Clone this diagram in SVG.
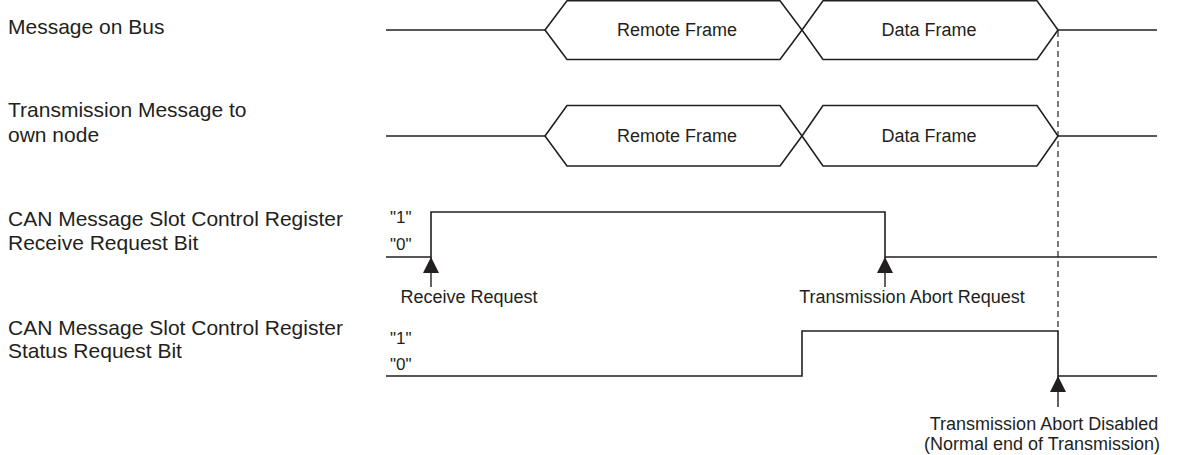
<svg xmlns="http://www.w3.org/2000/svg" width="1179" height="455" viewBox="0 0 1179 455">
  <style>
    .lbl { font-family: "Liberation Sans", Arial, sans-serif; font-size: 21px; fill: #231f20; }
    .txt { font-family: "Liberation Sans", Arial, sans-serif; font-size: 18px; fill: #231f20; }
    .lvl { font-family: "Liberation Sans", Arial, sans-serif; font-size: 17px; fill: #231f20; }
    .sig { fill: none; stroke: #231f20; stroke-width: 1.6; stroke-linejoin: miter; }
    .frame { fill: #ffffff; stroke: #231f20; stroke-width: 1.6; }
    .arrow { fill: none; stroke: #231f20; stroke-width: 1.4; marker-end: url(#head); }
    .dash { fill: none; stroke: #231f20; stroke-width: 1.2; stroke-dasharray: 6 4; }
  </style>
  <defs>
    <marker id="head" markerUnits="userSpaceOnUse" markerWidth="16" markerHeight="17" refX="16" refY="8" orient="auto">
      <path d="M0,0 L16,8 L0,16 Z" fill="#231f20"/>
    </marker>
  </defs>

  <rect width="1179" height="455" fill="#ffffff"/>

  <!-- Row 1: message on bus -->
  <g id="bus-message">
    <text class="lbl" x="8" y="34">Message on Bus</text>
    <path class="sig" d="M386,30 H545"/>
    <path class="sig" d="M1058,30 H1157"/>
    <polygon class="frame" points="545,30 567,0.8 780,0.8 802,30 780,59.5 567,59.5"/>
    <polygon class="frame" points="802,30 823,0.8 1037,0.8 1058,30 1037,59.5 823,59.5"/>
    <text class="txt" x="677" y="36" text-anchor="middle">Remote Frame</text>
    <text class="txt" x="929" y="36" text-anchor="middle">Data Frame</text>
  </g>

  <!-- Row 2: transmission message to own node -->
  <g id="own-message">
    <text class="lbl" x="8" y="117">Transmission Message to</text>
    <text class="lbl" x="8" y="142">own node</text>
    <path class="sig" d="M386,136 H545"/>
    <path class="sig" d="M1058,136 H1157"/>
    <polygon class="frame" points="545,136 567,105.5 780,105.5 802,136 780,166 567,166"/>
    <polygon class="frame" points="802,136 823,105.5 1037,105.5 1058,136 1037,166 823,166"/>
    <text class="txt" x="677" y="142" text-anchor="middle">Remote Frame</text>
    <text class="txt" x="929" y="142" text-anchor="middle">Data Frame</text>
  </g>

  <!-- Row 3: receive request bit -->
  <g id="receive-request-bit">
    <text class="lbl" x="8" y="226">CAN Message Slot Control Register</text>
    <text class="lbl" x="8" y="250">Receive Request Bit</text>
    <text class="lvl" x="390" y="223">"1"</text>
    <text class="lvl" x="390" y="250">"0"</text>
    <path class="sig" d="M386,257 H431 V212 H885 V257 H1157"/>
    <text class="txt" x="469" y="303" text-anchor="middle">Receive Request</text>
    <text class="txt" x="912" y="303" text-anchor="middle">Transmission Abort Request</text>
  </g>

  <!-- Row 4: status request bit -->
  <g id="status-request-bit">
    <text class="lbl" x="8" y="335">CAN Message Slot Control Register</text>
    <text class="lbl" x="8" y="358">Status Request Bit</text>
    <text class="lvl" x="390" y="344">"1"</text>
    <text class="lvl" x="390" y="370">"0"</text>
    <path class="sig" d="M386,376 H802 V331 H1058 V376 H1157"/>
    <text class="txt" x="1044" y="430" text-anchor="middle">Transmission Abort Disabled</text>
    <text class="txt" x="1042" y="450" text-anchor="middle">(Normal end of Transmission)</text>
  </g>

  <!-- Event arrows and end-of-frame marker -->
  <g id="connectors">
    <path class="dash" d="M1058,31 V331"/>
    <path class="arrow" d="M431,287 V257"/>
    <path class="arrow" d="M885,287 V257"/>
    <path class="arrow" d="M1058,407 V376"/>
  </g>
</svg>
